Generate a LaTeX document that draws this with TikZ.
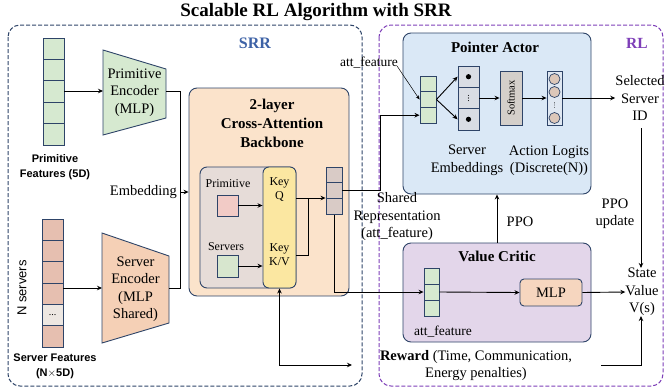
\documentclass[tikz,border=0pt]{standalone}
\usepackage{fontspec}
\setmainfont{Liberation Serif}
\setsansfont{Liberation Sans}
\usetikzlibrary{arrows.meta,calc}
\definecolor{navy}{HTML}{2E4468}
\definecolor{srrblue}{HTML}{3D62A6}
\definecolor{rlpurple}{HTML}{7E3FB8}
\definecolor{greenf}{HTML}{D6E9D0}
\definecolor{peachf}{HTML}{F5D0B6}
\definecolor{pinkcell}{HTML}{E6BFB0}
\definecolor{greycell}{HTML}{EDE7E2}
\definecolor{backf}{HTML}{FBE3CB}
\definecolor{innerf}{HTML}{E6DCD8}
\definecolor{keyf}{HTML}{FBE7A1}
\definecolor{pinksq}{HTML}{F2CBC6}
\definecolor{greensq}{HTML}{D7E6CE}
\definecolor{ostf}{HTML}{D9CBC6}
\definecolor{actorf}{HTML}{DAE8F6}
\definecolor{embf}{HTML}{D9DDE4}
\definecolor{softf}{HTML}{D4CFCA}
\definecolor{logitf}{HTML}{E0E8F2}
\definecolor{circf}{HTML}{DCC7B9}
\definecolor{criticf}{HTML}{E3D6EA}
\definecolor{mlpf}{HTML}{F6D6BF}
\begin{document}
\begin{tikzpicture}[x=1pt,y=-1pt,
  bx/.style={draw=navy, line width=0.9pt},
  cell/.style={draw=navy, line width=0.9pt, inner sep=0pt},
  arr/.style={-{Stealth[length=5pt,width=4.5pt]}, line width=0.9pt, black},
  ln/.style={line width=0.9pt, black},
  txt/.style={font=\fontsize{14.5}{17.5}\selectfont, align=center, inner sep=0pt},
  stxt/.style={font=\fontsize{12}{14}\selectfont, align=center, inner sep=0pt},
  ttl/.style={font=\bfseries\fontsize{15}{19}\selectfont, align=center, inner sep=0pt},
  sflbl/.style={font=\sffamily\bfseries\fontsize{11}{15}\selectfont, align=center, inner sep=0pt}]
\useasboundingbox (0,0) rectangle (665,389);

% title
\node[font=\bfseries\fontsize{19}{21}\selectfont, inner sep=0pt] (title) at (316,12) {Scalable RL Algorithm with SRR};

% dashed regions
\draw[navy, line width=1pt, dash pattern=on 4pt off 2pt, rounded corners=12] (8,25) rectangle (362,386);
\draw[rlpurple, line width=1pt, dash pattern=on 4pt off 2pt, rounded corners=12] (379,25) rectangle (663,386);
\node[font=\bfseries\fontsize{16}{18}\selectfont, text=srrblue, inner sep=0pt] (srr) at (255,43) {SRR};
\node[font=\bfseries\fontsize{15.5}{18}\selectfont, text=rlpurple, inner sep=0pt] (rl) at (637,43) {RL};

% primitive features
\foreach \i in {0,...,4}
  \node[cell, fill=greenf, minimum width=21pt, minimum height=21.4pt] (pf\i) at (53.5,48.7+21.4*\i) {};
\node[sflbl] (pflbl) at (55,167) {Primitive\\Features (5D)};

% server features
\foreach \i in {0,...,5}
  \node[cell, fill=pinkcell, minimum width=21pt, minimum height=21.33pt] (sf\i) at (52.5,229.7+21.33*\i) {};
\node[cell, fill=greycell, minimum width=21pt, minimum height=21.33pt, font=\fontsize{10}{10}\selectfont] (sf4) at (52.5,229.7+21.33*4) {...};
\node[font=\sffamily\fontsize{13}{15}\selectfont, rotate=90, inner sep=0pt] (nsrv) at (22,288) {N servers};
\node[sflbl] (sflbl) at (55,366) {Server Features\\(N$\times$5D)};

% primitive encoder
\draw[bx, fill=greenf] (103,50) -- (166,69) -- (166,118) -- (103,135) -- cycle;
\node[txt] (penc) at (134.5,92.5) {Primitive\\Encoder\\(MLP)};
\coordinate (penc-w) at (103,91);
\coordinate (penc-e) at (166,91);
\draw[arr] (pf2.east |- penc-w) -- (penc-w);

% server encoder
\draw[bx, fill=peachf] (102,233) -- (169,256) -- (169,323) -- (102,343) -- cycle;
\node[txt] (senc) at (135.5,289) {Server\\Encoder\\(MLP\\Shared)};
\coordinate (senc-w) at (102,288);
\coordinate (senc-e) at (169,288);
\draw[arr] (sf3.east |- senc-w) -- (senc-w);

% backbone
\node[bx, fill=backf, rounded corners=8, minimum width=160pt, minimum height=208pt, inner sep=0pt] (back) at (269,192) {};
\node[ttl] (backt) at (272,123) {2-layer\\Cross-Attention\\Backbone};
\node[bx, fill=innerf, rounded corners=7, minimum width=96pt, minimum height=121pt, inner sep=0pt] (inner) at (248,227.5) {};
\node[bx, fill=keyf, rounded corners=6, minimum width=33pt, minimum height=121pt, inner sep=0pt] (keyb) at (279.5,227.5) {};
\node[stxt] (kq) at (279.5,190) {Key\\Q};
\node[stxt] (kkv) at (279.5,255) {Key\\K/V};
\node[stxt] (primlbl) at (228,184) {Primitive};
\node[cell, fill=pinksq, minimum width=21pt, minimum height=21pt] (psq) at (227.5,205.5) {};
\node[stxt] (srvlbl) at (226,247) {Servers};
\node[cell, fill=greensq, minimum width=21pt, minimum height=22pt] (ssq) at (227.5,266) {};
\draw[arr] (psq.east) -- (psq.east -| keyb.west);
\draw[arr] (ssq.east) -- (ssq.east -| keyb.west);

% encoders -> backbone
\coordinate (emb) at (180,192);
\draw[ln] (penc-e) -| (emb);
\draw[ln] (senc-e) -| (emb);
\draw[arr] (emb) -- (emb -| back.west);
\node[txt, anchor=east] (embl) at (177,192) {Embedding};

% output stack
\foreach \i in {0,1,2}
  \node[cell, fill=ostf, minimum width=16pt, minimum height=15.7pt] (ost\i) at (334,174.8+15.7*\i) {};
\coordinate (qout) at (296,198);
\coordinate (kvout) at (296,255);
\draw[arr] (qout) -- (qout -| ost0.west);
\draw[ln] (kvout) -| (308,198);

% pointer actor
\node[bx, fill=actorf, rounded corners=8, minimum width=188pt, minimum height=161pt, inner sep=0pt] (actor) at (497,113.5) {};
\node[ttl] (actort) at (495,47) {Pointer Actor};
\foreach \i in {0,1,2}
  \node[cell, fill=greenf, minimum width=16pt, minimum height=15.7pt] (ag\i) at (428,83.8+15.7*\i) {};
\node[txt, font=\fontsize{13.5}{16}\selectfont] (attf1) at (369,63) {att\_feature};
\draw[-{Stealth[length=4pt,width=3.5pt]}, line width=0.5pt] (attf1.east) ++(-1,3) -- (ag1.west);
\foreach \i in {0,1,2}
  \node[cell, fill=embf, minimum width=21pt, minimum height=21.3pt] (em\i) at (468.5,76.7+21.3*\i) {};
\fill (em0.center) circle (2.6pt);
\fill (em2.center) circle (2.6pt);
\foreach \d in {-2.6,0,2.6}
  \fill ($(em1.center)+(0,\d)$) circle (0.55pt);
\draw[arr] (ag1.east) -- (em0.west);
\draw[arr] (ag1.east) -- (em2.west);
\node[cell, fill=softf, minimum width=22pt, minimum height=54pt] (soft) at (511,98) {};
\node[font=\fontsize{10.5}{10.5}\selectfont, rotate=90, inner sep=0pt] (softt) at (soft.center) {Softmax};
\draw[arr] (em1.east) -- (soft.west);
\node[cell, fill=logitf, minimum width=15pt, minimum height=54pt] (logit) at (554.5,98) {};
\foreach \yy [count=\k] in {79,92,118}
  \node[draw=navy, line width=0.7pt, fill=circf, circle, minimum size=11pt, inner sep=0pt] (c\k) at (554.5,\yy) {};
\foreach \d in {-2.2,0,2.2}
  \fill (554.5,105+\d) circle (0.45pt);
\draw[arr] (soft.east) -- (logit.west);
\node[txt] (semb) at (467,160.5) {Server\\Embeddings};
\node[txt] (alog) at (549,160.5) {Action Logits\\(Discrete(N))};
\node[txt] (selid) at (640,98) {Selected\\Server\\ID};
\draw[arr] (logit.east) -- (selid.west);

% shared representation route
\draw[arr] (ost1.east) -- ++(38,0) |- (ag2.west);
\node[txt] (shared) at (397,217) {Shared\\Representation\\(att\_feature)};

% value critic
\node[bx, fill=criticf, rounded corners=8, minimum width=188pt, minimum height=99pt, inner sep=0pt] (critic) at (497,292.5) {};
\node[ttl] (critict) at (497,256) {Value Critic};
\foreach \i in {0,1,2}
  \node[cell, fill=greenf, minimum width=15pt, minimum height=16pt] (cg\i) at (431.5,276+16*\i) {};
\node[txt, font=\fontsize{13.5}{16}\selectfont] (attf2) at (443,332) {att\_feature};
\node[bx, fill=mlpf, rounded corners=4, minimum width=62pt, minimum height=27pt, inner sep=0pt, font=\fontsize{14.5}{16}\selectfont] (mlp) at (551,292.5) {MLP};
\draw[arr] (ost2.south) |- (cg1.west);
\draw[arr] (cg1.east) -- (mlp.west);

% PPO
\draw[arr] (critic.north) -- (actor.south);
\node[txt] (ppo) at (520,222) {PPO};

% state value
\node[txt] (sval) at (642,292) {State\\Value\\V(s)};
\draw[arr] (mlp.east) -- (sval.west);
\coordinate (selbot) at (641,128);
\draw[arr] (selbot) -- (sval.north -| selbot);
\node[txt] (ppou) at (615,213.5) {PPO\\update};

% reward
\node[txt] (reward) at (476,365.5) {\textbf{Reward} (Time, Communication,\\Energy penalties)};
\coordinate (rwin) at (352,365);
\draw[{Stealth[length=5pt,width=4.5pt]}-{Stealth[length=5pt,width=4.5pt]}, line width=0.9pt] (keyb.south) |- (rwin);
\coordinate (rwout) at (601,365);
\draw[arr] (rwout) -| (sval.south -| selbot);
\end{tikzpicture}
\end{document}
